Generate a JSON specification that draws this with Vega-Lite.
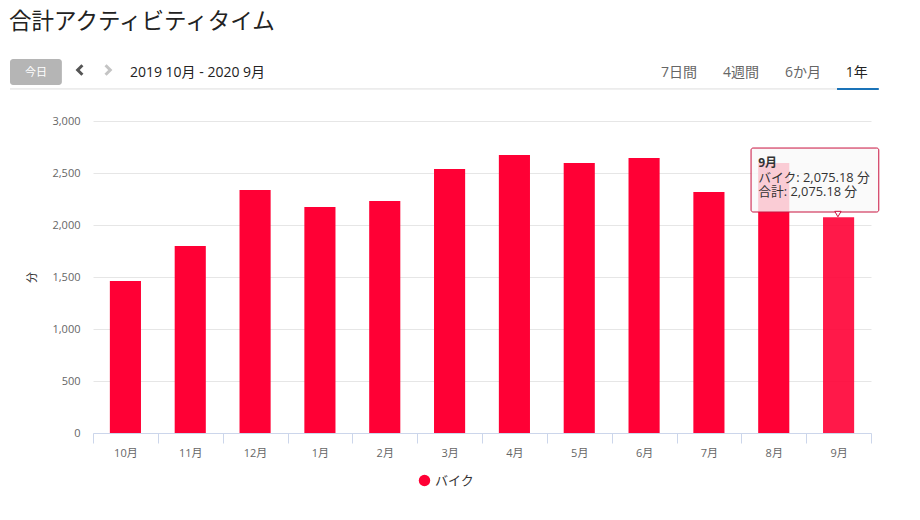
{
  "$schema": "https://vega.github.io/schema/vega-lite/v6.json",
  "width": 778,
  "height": 312,
  "autosize": {"type": "none"},
  "padding": {"left": 93, "top": 121, "right": 49, "bottom": 87},
  "background": "white",
  "title": {
    "text": "合計アクティビティタイム",
    "anchor": "start",
    "frame": "group",
    "dx": -84,
    "offset": 26,
    "font": "Noto Sans CJK JP",
    "fontSize": 22.5,
    "fontWeight": "normal",
    "color": "#222222"
  },
  "config": {
    "font": "Open Sans, Noto Sans CJK JP",
    "view": {"stroke": null},
    "text": {"font": "Open Sans, Noto Sans CJK JP"}
  },
  "resolve": {"scale": {"x": "independent"}},
  "layer": [
    {
      "data": {
        "values": [
          {"month": "10月", "minutes": 1461, "sport": "バイク"},
          {"month": "11月", "minutes": 1798, "sport": "バイク"},
          {"month": "12月", "minutes": 2336, "sport": "バイク"},
          {"month": "1月", "minutes": 2173, "sport": "バイク"},
          {"month": "2月", "minutes": 2230, "sport": "バイク"},
          {"month": "3月", "minutes": 2538, "sport": "バイク"},
          {"month": "4月", "minutes": 2673, "sport": "バイク"},
          {"month": "5月", "minutes": 2596, "sport": "バイク"},
          {"month": "6月", "minutes": 2644, "sport": "バイク"},
          {"month": "7月", "minutes": 2317, "sport": "バイク"},
          {"month": "8月", "minutes": 2596, "sport": "バイク"},
          {"month": "9月", "minutes": 2075.18, "sport": "バイク"}
        ]
      },
      "mark": {"type": "bar", "width": {"band": 0.48}},
      "encoding": {
        "x": {
          "field": "month",
          "type": "nominal",
          "sort": null,
          "title": null,
          "scale": {"paddingInner": 0, "paddingOuter": 0},
          "axis": {
            "labelAngle": 0,
            "labelColor": "#666666",
            "labelFontSize": 11,
            "labelPadding": 4,
            "tickBand": "extent",
            "tickColor": "#ccd6eb",
            "tickSize": 10,
            "domainColor": "#ccd6eb",
            "grid": false
          }
        },
        "y": {
          "field": "minutes",
          "type": "quantitative",
          "title": "分",
          "scale": {"domain": [0, 3000], "nice": false},
          "axis": {
            "values": [0, 500, 1000, 1500, 2000, 2500, 3000],
            "format": ",d",
            "domain": false,
            "ticks": false,
            "labelColor": "#666666",
            "labelFontSize": 11,
            "labelPadding": 13,
            "gridColor": "#e6e6e6",
            "titleColor": "#333333",
            "titleFontSize": 11,
            "titleFontWeight": "normal",
            "titlePadding": 14
          }
        },
        "color": {
          "field": "sport",
          "type": "nominal",
          "title": null,
          "scale": {"range": ["#ff0035"]},
          "legend": {
            "orient": "none",
            "legendX": 325,
            "legendY": 353,
            "symbolType": "circle",
            "symbolSize": 130,
            "symbolOpacity": 1,
            "labelFontSize": 13,
            "labelColor": "#333333"
          }
        },
        "opacity": {
          "condition": {"test": "datum.month === '9月'", "value": 0.9},
          "value": 1
        }
      }
    },
    {
      "data": {"values": [{}]},
      "mark": {"type": "rect", "fill": "#f9f9f9", "fillOpacity": 0.82, "stroke": "#c9123f", "strokeWidth": 1, "cornerRadius": 2},
      "encoding": {
        "x": {"datum": 10.15, "type": "quantitative", "scale": {"domain": [0, 12]}, "axis": null},
        "x2": {"datum": 12.12},
        "y": {"datum": 2125, "type": "quantitative", "scale": {"domain": [0, 3000], "nice": false}},
        "y2": {"datum": 2740}
      }
    },
    {
      "data": {"values": [{}]},
      "mark": {"type": "point", "shape": "triangle-down", "filled": true, "fill": "#f9f9f9", "stroke": "#c9123f", "strokeWidth": 1, "size": 40, "opacity": 1},
      "encoding": {
        "x": {"datum": 11.49, "type": "quantitative", "scale": {"domain": [0, 12]}, "axis": null},
        "y": {"datum": 2105, "type": "quantitative", "scale": {"domain": [0, 3000], "nice": false}}
      }
    },
    {
      "data": {"values": [{}]},
      "mark": {"type": "text", "text": "9月", "align": "left", "fontSize": 12, "fontWeight": "bold", "color": "#333333"},
      "encoding": {
        "x": {"datum": 10.26, "type": "quantitative", "scale": {"domain": [0, 12]}, "axis": null},
        "y": {"datum": 2596, "type": "quantitative", "scale": {"domain": [0, 3000], "nice": false}}
      }
    },
    {
      "data": {"values": [{}]},
      "mark": {"type": "text", "text": "バイク: 2,075.18 分", "align": "left", "fontSize": 12.8, "color": "#333333"},
      "encoding": {
        "x": {"datum": 10.26, "type": "quantitative", "scale": {"domain": [0, 12]}, "axis": null},
        "y": {"datum": 2452, "type": "quantitative", "scale": {"domain": [0, 3000], "nice": false}}
      }
    },
    {
      "data": {"values": [{}]},
      "mark": {"type": "text", "text": "合計: 2,075.18 分", "align": "left", "fontSize": 12.8, "color": "#333333"},
      "encoding": {
        "x": {"datum": 10.26, "type": "quantitative", "scale": {"domain": [0, 12]}, "axis": null},
        "y": {"datum": 2317, "type": "quantitative", "scale": {"domain": [0, 3000], "nice": false}}
      }
    },
    {
      "data": {"values": [{}]},
      "mark": {"type": "rule", "color": "#dddddd", "strokeWidth": 1},
      "encoding": {
        "x": {"datum": -1.28, "type": "quantitative", "scale": {"domain": [0, 12]}, "axis": null},
        "x2": {"datum": 12.12},
        "y": {"datum": 3308, "type": "quantitative", "scale": {"domain": [0, 3000], "nice": false}}
      }
    },
    {
      "data": {"values": [{}]},
      "mark": {"type": "rule", "color": "#1a73b8", "strokeWidth": 2},
      "encoding": {
        "x": {"datum": 11.476, "type": "quantitative", "scale": {"domain": [0, 12]}, "axis": null},
        "x2": {"datum": 12.12},
        "y": {"datum": 3308, "type": "quantitative", "scale": {"domain": [0, 3000], "nice": false}}
      }
    },
    {
      "data": {"values": [{}]},
      "mark": {"type": "rect", "fill": "#b5b5b5", "cornerRadius": 3},
      "encoding": {
        "x": {"datum": -1.28, "type": "quantitative", "scale": {"domain": [0, 12]}, "axis": null},
        "x2": {"datum": -0.48},
        "y": {"datum": 3346, "type": "quantitative", "scale": {"domain": [0, 3000], "nice": false}},
        "y2": {"datum": 3596}
      }
    },
    {
      "data": {"values": [{}]},
      "mark": {"type": "text", "text": "今日", "fontSize": 11, "color": "#ffffff"},
      "encoding": {
        "x": {"datum": -0.88, "type": "quantitative", "scale": {"domain": [0, 12]}, "axis": null},
        "y": {"datum": 3461, "type": "quantitative", "scale": {"domain": [0, 3000], "nice": false}}
      }
    },
    {
      "data": {"values": [{}]},
      "mark": {"type": "point", "shape": "M0.5,-1L-0.5,0L0.5,1", "filled": false, "stroke": "#555555", "strokeWidth": 3, "size": 90, "opacity": 1},
      "encoding": {
        "x": {"datum": -0.2, "type": "quantitative", "scale": {"domain": [0, 12]}, "axis": null},
        "y": {"datum": 3490, "type": "quantitative", "scale": {"domain": [0, 3000], "nice": false}}
      }
    },
    {
      "data": {"values": [{}]},
      "mark": {"type": "point", "shape": "M-0.5,-1L0.5,0L-0.5,1", "filled": false, "stroke": "#c4c4c4", "strokeWidth": 3, "size": 90, "opacity": 1},
      "encoding": {
        "x": {"datum": 0.23, "type": "quantitative", "scale": {"domain": [0, 12]}, "axis": null},
        "y": {"datum": 3490, "type": "quantitative", "scale": {"domain": [0, 3000], "nice": false}}
      }
    },
    {
      "data": {"values": [{}]},
      "mark": {"type": "text", "text": "2019 10月 - 2020 9月", "align": "left", "fontSize": 14, "color": "#222222"},
      "encoding": {
        "x": {"datum": 0.57, "type": "quantitative", "scale": {"domain": [0, 12]}, "axis": null},
        "y": {"datum": 3461, "type": "quantitative", "scale": {"domain": [0, 3000], "nice": false}}
      }
    },
    {
      "data": {"values": [{}]},
      "mark": {"type": "text", "text": "7日間", "fontSize": 14, "color": "#666666"},
      "encoding": {
        "x": {"datum": 9.04, "type": "quantitative", "scale": {"domain": [0, 12]}, "axis": null},
        "y": {"datum": 3461, "type": "quantitative", "scale": {"domain": [0, 3000], "nice": false}}
      }
    },
    {
      "data": {"values": [{}]},
      "mark": {"type": "text", "text": "4週間", "fontSize": 14, "color": "#666666"},
      "encoding": {
        "x": {"datum": 9.995, "type": "quantitative", "scale": {"domain": [0, 12]}, "axis": null},
        "y": {"datum": 3461, "type": "quantitative", "scale": {"domain": [0, 3000], "nice": false}}
      }
    },
    {
      "data": {"values": [{}]},
      "mark": {"type": "text", "text": "6か月", "fontSize": 14, "color": "#666666"},
      "encoding": {
        "x": {"datum": 10.95, "type": "quantitative", "scale": {"domain": [0, 12]}, "axis": null},
        "y": {"datum": 3461, "type": "quantitative", "scale": {"domain": [0, 3000], "nice": false}}
      }
    },
    {
      "data": {"values": [{}]},
      "mark": {"type": "text", "text": "1年", "fontSize": 14, "color": "#222222"},
      "encoding": {
        "x": {"datum": 11.78, "type": "quantitative", "scale": {"domain": [0, 12]}, "axis": null},
        "y": {"datum": 3461, "type": "quantitative", "scale": {"domain": [0, 3000], "nice": false}}
      }
    }
  ]
}
